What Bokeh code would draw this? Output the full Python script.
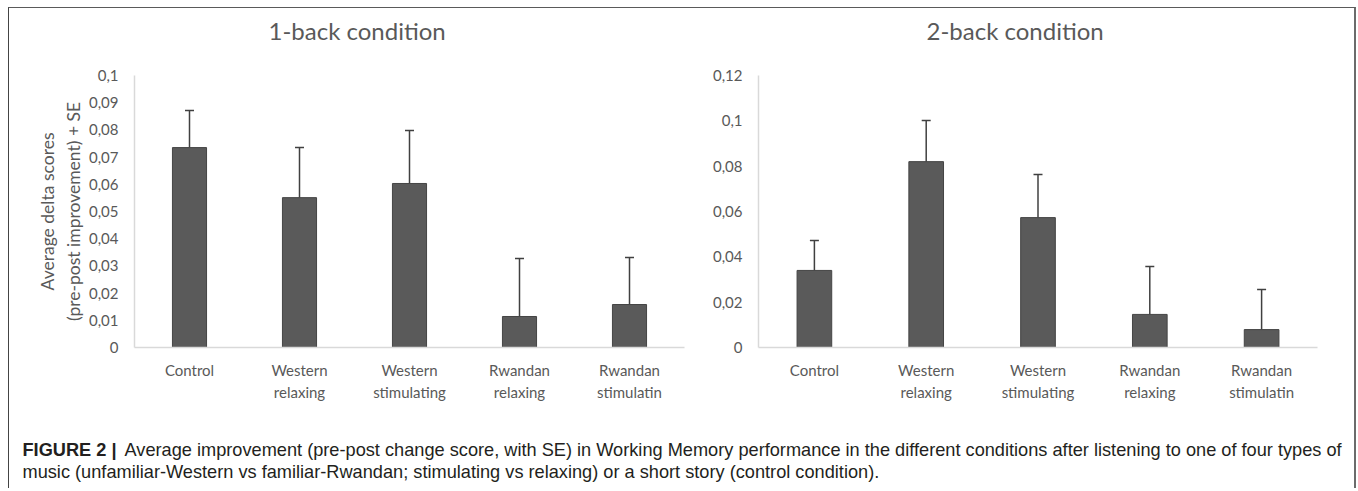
from bokeh.plotting import figure
from bokeh.models import ColumnDataSource, Range1d, FactorRange, Whisker, TeeHead, FixedTicker
from bokeh.layouts import column, row
from bokeh.embed import file_html
from bokeh.resources import INLINE
from bokeh.core.properties import value

# ---------------- data ----------------
categories = ["Control", "Western\nrelaxing", "Western\nstimulating", "Rwandan\nrelaxing", "Rwandan\nstimulatin"]

oneback_mean = [0.0735, 0.0551, 0.0603, 0.0114, 0.0158]
oneback_upper = [0.0871, 0.0735, 0.0798, 0.0327, 0.0331]
twoback_mean = [0.0340, 0.0820, 0.0573, 0.0146, 0.0079]
twoback_upper = [0.0472, 0.1001, 0.0763, 0.0357, 0.0256]

oneback_ticks = [0, 0.01, 0.02, 0.03, 0.04, 0.05, 0.06, 0.07, 0.08, 0.09, 0.1]
oneback_tick_labels = ["0", "0,01", "0,02", "0,03", "0,04", "0,05", "0,06", "0,07", "0,08", "0,09", "0,1"]
twoback_ticks = [0, 0.02, 0.04, 0.06, 0.08, 0.1, 0.12]
twoback_tick_labels = ["0", "0,02", "0,04", "0,06", "0,08", "0,1", "0,12"]

titles = ["1-back condition", "2-back condition"]
y_axis_label = "Average delta scores\n(pre-post improvement) + SE"
caption_bold = "FIGURE 2 |"
caption_line1 = ("Average improvement (pre-post change score, with SE) in Working Memory performance "
                 "in the different conditions after listening to one of four types of")
caption_line2 = ("music (unfamiliar-Western vs familiar-Rwandan; stimulating vs relaxing) "
                 "or a short story (control condition).")

# ---------------- style ----------------
FONT = "Lato"
TXT = "#595959"
BAR = "#5a5a5a"
ERR = "#404040"
AXIS = "#d9d9d9"
CHART_H = 400
CAP_H = 80


def make_chart(title, means, uppers, ticks, tick_labels, width, mbl, mbr, title_offset, ylabel=None):
    ymax = ticks[-1]
    src = ColumnDataSource(dict(cat=categories, mean=means, upper=uppers))
    # the blank second line lifts the title away from the plot frame
    p = figure(x_range=FactorRange(*categories), y_range=Range1d(0, ymax),
               width=width, height=CHART_H, output_backend="svg", toolbar_location=None,
               min_border_left=mbl, min_border_right=mbr, min_border_top=67, min_border_bottom=61,
               title=title + "\n ")
    p.vbar(x="cat", top="mean", width=0.31, source=src, fill_color=BAR, line_color="#444444", line_width=1)
    w = Whisker(source=src, base="cat", lower="mean", upper="upper", dimension="height",
                line_color=ERR, line_width=1.5,
                upper_head=TeeHead(size=9, line_color=ERR, line_width=1.5), lower_head=None)
    p.add_layout(w)

    p.title.align = "left"
    p.title.vertical_align = "bottom"
    p.title.offset = title_offset
    p.title.standoff = 4
    p.title.text_font = FONT
    p.title.text_font_size = "24px"
    p.title.text_line_height = 1.0
    p.title.text_font_style = "normal"
    p.title.text_color = TXT

    p.xgrid.visible = False
    p.ygrid.visible = False
    p.outline_line_color = None
    p.background_fill_color = "white"
    p.border_fill_color = "white"

    for ax in (p.xaxis[0], p.yaxis[0]):
        ax.axis_line_color = AXIS
        ax.axis_line_width = 1.5
        ax.major_tick_line_color = None
        ax.minor_tick_line_color = None
        ax.major_label_text_font = FONT
        ax.major_label_text_color = TXT

    p.yaxis.ticker = FixedTicker(ticks=ticks)
    p.yaxis.major_label_overrides = {t: l for t, l in zip(ticks, tick_labels)}
    p.yaxis.major_label_text_font_size = "15px"
    p.yaxis.major_label_standoff = 10

    p.xaxis.major_label_text_font_size = "15px"
    p.xaxis.major_label_text_line_height = 1.25
    p.xaxis.major_label_standoff = 7

    if ylabel:
        p.yaxis.axis_label = ylabel
        p.yaxis.axis_label_text_font = FONT
        p.yaxis.axis_label_text_font_size = "17.5px"
        p.yaxis.axis_label_text_font_style = "normal"
        p.yaxis.axis_label_text_color = TXT
        p.yaxis.axis_label_text_line_height = 1.25
        p.yaxis.axis_label_standoff = 2
    return p


p1 = make_chart(titles[0], oneback_mean, oneback_upper, oneback_ticks, oneback_tick_labels,
                width=681, mbl=125, mbr=6, title_offset=134, ylabel=y_axis_label)
p2 = make_chart(titles[1], twoback_mean, twoback_upper, twoback_ticks, twoback_tick_labels,
                width=664, mbl=68, mbr=37, title_offset=168)

CAP_W = 1345
cap = figure(width=CAP_W, height=CAP_H, x_range=Range1d(0, CAP_W), y_range=Range1d(CAP_H, 0),
             output_backend="svg", toolbar_location=None, min_border=0,
             x_axis_location=None, y_axis_location=None)
cap.xgrid.visible = False
cap.ygrid.visible = False
cap.outline_line_color = None
cap.text(x=[13], y=[41], text=[caption_bold], text_font=value("Liberation Sans"), text_font_style="bold",
         text_font_size="18.2px", text_baseline="middle", text_color="#231f20")
cap.text(x=[115, 13], y=[41, 63], text=[caption_line1, caption_line2], text_font=value("Liberation Sans"),
         text_font_size="18.2px", text_baseline="middle", text_color="#231f20")

layout = column(row(p1, p2), cap,
                styles={"margin-left": "8px", "margin-top": "7px",
                        "border-left": "1px solid #444444", "border-top": "1px solid #5a5a5a",
                        "border-right": "2px solid #6b6b6b"})

open("out.html", "w").write(file_html(layout, INLINE))
